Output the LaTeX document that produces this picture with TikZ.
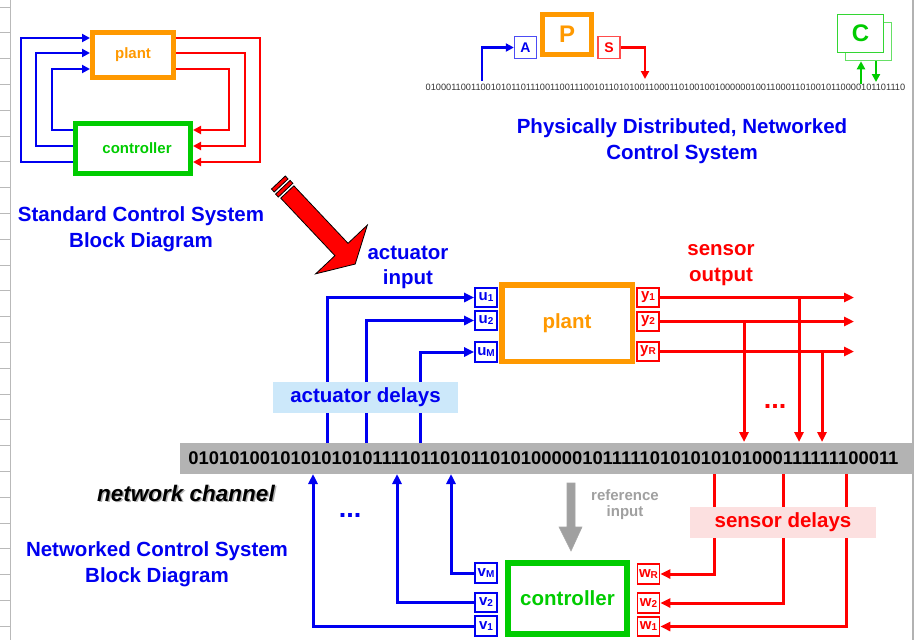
\documentclass[tikz,border=0pt]{standalone}
\usepackage{fontspec}
\setmainfont{Liberation Sans}
\usetikzlibrary{arrows.meta}

\definecolor{ncsblue}{RGB}{0,0,240}
\definecolor{ncsred}{RGB}{255,0,0}
\definecolor{ncsorange}{RGB}{255,153,0}
\definecolor{ncsgreen}{RGB}{0,204,0}
\definecolor{chgray}{RGB}{179,179,179}
\definecolor{actbg}{RGB}{204,232,250}
\definecolor{senbg}{RGB}{252,224,224}
\definecolor{refgray}{RGB}{160,160,160}

\newcommand\ncssub[2]{#1{\fontsize{10}{10}\selectfont\raisebox{-1pt}{#2}}}

\tikzset{
  ncsf/.style={font=\bfseries\fontsize{#1}{#1}\selectfont},
  twoline/.style 2 args={align=center, font=\bfseries\fontsize{#1}{#2}\selectfont},
  thickbox/.style={draw, line width=#1, inner sep=0pt, fill=white},
  port/.style={draw, line width=1.6pt, minimum width=22pt, minimum height=19.5pt,
    inner sep=0pt, fill=white, font=\bfseries\fontsize{15}{15}\selectfont},
  wire/.style={line width=3pt},
  thinwire/.style={line width=2.6pt},
  tip/.style={-{Triangle[length=10pt,width=9pt]}},
  smalltip/.style={-{Triangle[length=8pt,width=8pt]}},
  delaybox/.style={inner sep=0pt, minimum height=31pt, font=\bfseries\fontsize{20.5}{20.5}\selectfont},
}

\begin{document}
\begin{tikzpicture}[x=1pt,y=-1pt]
\useasboundingbox (0,0) rectangle (915,640);
\fill[white] (0,0) rectangle (915,640);

% sheet edges
\draw[gray!55, line width=0.8pt] (10,0) -- (10,640);
\foreach \k in {0,...,24} \draw[gray!55, line width=0.8pt] (0,7+25.8*\k) -- (10,7+25.8*\k);
\draw[gray!60, line width=1.5pt] (913,0) -- (913,640);

% ---------- standard control loop ----------
\node[thickbox=5pt, draw=ncsorange, minimum width=81pt, minimum height=45pt,
      text=ncsorange, ncsf=15] (sp) at (133,55) {plant};
\node[thickbox=5pt, draw=ncsgreen, minimum width=115pt, minimum height=50pt,
      text=ncsgreen, ncsf=15] (sc) at (133,148.5) {\hspace{8pt}controller};

\begin{scope}[thinwire, ncsblue, smalltip]
  \draw ([yshift=-13.5pt]sc.west) -| (21,38) -- ([yshift=17pt]sp.west);
  \draw ([yshift=2.5pt]sc.west) -| (36,53) -- ([yshift=2pt]sp.west);
  \draw ([yshift=18.5pt]sc.west) -| (52,69) -- ([yshift=-14pt]sp.west);
\end{scope}
\begin{scope}[thinwire, ncsred, smalltip]
  \draw ([yshift=17pt]sp.east) -| (260,162) -- ([yshift=-13.5pt]sc.east);
  \draw ([yshift=2pt]sp.east) -| (245,146) -- ([yshift=2.5pt]sc.east);
  \draw ([yshift=-14pt]sp.east) -| (229,130) -- ([yshift=18.5pt]sc.east);
\end{scope}

\node[twoline={20.5}{25.5}, text=ncsblue] (t1) at (141,229) {Standard Control System\\Block Diagram};

% ---------- physically distributed sketch ----------
\node[draw=ncsblue!70, line width=1.3pt, minimum width=22pt, minimum height=22pt,
      inner sep=0pt, text=ncsblue, ncsf=14] (nA) at (525.5,47.5) {A};
\node[thickbox=5pt, draw=ncsorange, minimum width=49pt, minimum height=40pt,
      text=ncsorange, ncsf=24] (nP) at (567,34.5) {P};
\node[draw=ncsred!70, line width=1.3pt, minimum width=22pt, minimum height=22pt,
      inner sep=0pt, text=ncsred, ncsf=14] (nS) at (609,47.5) {S};
\coordinate (tA) at (482,81);
\coordinate (tS) at (645,79);
\draw[thinwire, ncsblue, smalltip] (tA) |- (nA.west);
\draw[thinwire, ncsred, smalltip] (nS.east) -| (tS);
\node[font=\fontsize{9.2}{9.2}\selectfont, text=black!80, inner sep=0pt] (bits) at (665.5,87)
  {010001100110010101101110011001110010110101001100011010010010000001001100011010010110000101101110};
\node[draw=ncsgreen!60, line width=1.5pt, minimum width=46pt, minimum height=38pt, inner sep=0pt] (Cb) at (868.5,41.5) {};
\node[draw=ncsgreen!80, line width=1.5pt, minimum width=46pt, minimum height=38pt, inner sep=0pt,
      fill=white, text=ncsgreen, ncsf=24] (Cf) at (860.5,33.5) {C};
\coordinate (cu) at (861,84);
\coordinate (cd) at (876,82);
\draw[thinwire, ncsgreen, smalltip] (cu) -- (cu |- Cb.south);
\draw[thinwire, ncsgreen, smalltip] (cd |- Cb.south) -- (cd);

\node[twoline={20.5}{25.5}, text=ncsblue] (t2) at (682,141) {Physically Distributed, Networked\\Control System};

% ---------- big transition arrow ----------
\begin{scope}[shift={(287.3,192)}, rotate=-46.7]
  \filldraw[fill=ncsred, draw=black, line width=0.8pt]
    (0,-9) -- (79,-9) -- (79,-35.5) -- (99,0) -- (79,35.5) -- (79,9) -- (0,9) -- cycle;
  \filldraw[fill=ncsred, draw=black, line width=0.8pt] (-6.5,-10) rectangle (-2.5,10);
  \filldraw[fill=ncsred, draw=black, line width=0.8pt] (-13,-9.5) rectangle (-9,9.5);
\end{scope}

% ---------- network channel ----------
\node[fill=chgray, minimum width=733pt, minimum height=31pt, inner sep=0pt,
      font=\bfseries\fontsize{18.4}{18.4}\selectfont] (ch) at (546.5,458.5)
  {\hspace{-6pt}01010100101010101011110110101101010000010111110101010101000111111100011};

% ---------- networked plant ----------
\node[thickbox=5.5pt, draw=ncsorange, minimum width=130.5pt, minimum height=76.5pt,
      text=ncsorange, ncsf=20.5] (P) at (567,323) {plant};
\node[port, draw=ncsblue, text=ncsblue] (u1) at (486,297.5) {\ncssub{u}{1}};
\node[port, draw=ncsblue, text=ncsblue] (u2) at (486,320.5) {\ncssub{u}{2}};
\node[port, draw=ncsblue, text=ncsblue] (uM) at (486,352) {\ncssub{u}{M}};
\node[port, draw=ncsred, text=ncsred] (y1) at (648,297.5) {\ncssub{y}{1}};
\node[port, draw=ncsred, text=ncsred] (y2) at (648,321.5) {\ncssub{y}{2}};
\node[port, draw=ncsred, text=ncsred] (yR) at (648,351.5) {\ncssub{y}{R}};

\coordinate (a1) at (327,443);
\coordinate (a2) at (366,443);
\coordinate (a3) at (420,443);
\begin{scope}[wire, ncsblue, tip]
  \draw (a1) |- (u1.west);
  \draw (a2) |- (u2.west);
  \draw (a3) |- (uM.west);
\end{scope}

\coordinate (oend) at (854,0);
\coordinate (d1) at (744,442);
\coordinate (d2) at (799,442);
\coordinate (d3) at (822,442);
\begin{scope}[wire, ncsred, tip]
  \draw (y1.east) -- (y1.east -| oend);
  \draw (y2.east) -- (y2.east -| oend);
  \draw (yR.east) -- (yR.east -| oend);
  \draw (y2.east -| d1) -- (d1);
  \draw (y1.east -| d2) -- (d2);
  \draw (yR.east -| d3) -- (d3);
\end{scope}

\node[delaybox, fill=actbg, minimum width=185pt, text=ncsblue] (ad) at (365.5,397.5) {actuator delays};
\node[twoline={20.5}{25.5}, text=ncsblue] (ai) at (408,267.5) {actuator\\input};
\node[twoline={20.5}{25.5}, text=ncsred] (so) at (721,265) {sensor\\output};
\node[ncsf=27, text=ncsred] (rdots) at (775,406) {...};

% ---------- networked controller ----------
\node[thickbox=6pt, draw=ncsgreen, minimum width=119pt, minimum height=71pt,
      text=ncsgreen, ncsf=20.5] (C) at (567.5,598.5) {controller};
\node[port, draw=ncsblue, text=ncsblue] (vM) at (486,573) {\ncssub{v}{M}};
\node[port, draw=ncsblue, text=ncsblue] (v2) at (486,602.5) {\ncssub{v}{2}};
\node[port, draw=ncsblue, text=ncsblue] (v1) at (486,626) {\ncssub{v}{1}};
\node[port, draw=ncsred, text=ncsred] (wR) at (648.5,574) {\ncssub{w}{R}};
\node[port, draw=ncsred, text=ncsred] (w2) at (648.5,603) {\ncssub{w}{2}};
\node[port, draw=ncsred, text=ncsred] (w1) at (648.5,626.5) {\ncssub{w}{1}};

\coordinate (b1) at (313,474);
\coordinate (b2) at (397,474);
\coordinate (b3) at (451,474);
\begin{scope}[wire, ncsblue, tip]
  \draw (v1.west) -| (b1);
  \draw (v2.west) -| (b2);
  \draw (vM.west) -| (b3);
\end{scope}

\coordinate (r1) at (714,474);
\coordinate (r2) at (783,474);
\coordinate (r3) at (846,474);
\begin{scope}[wire, ncsred, tip]
  \draw (r1) |- (wR.east);
  \draw (r2) |- (w2.east);
  \draw (r3) |- (w1.east);
\end{scope}

\node[delaybox, fill=senbg, minimum width=186pt, text=ncsred] (sd) at (783,522.5) {sensor delays};
\node[ncsf=27, text=ncsblue] (bdots) at (350,515) {...};

% reference input arrow
\filldraw[fill=refgray, draw=gray!70, line width=0.6pt]
  (567,483) -- (575,483) -- (575,527) -- (582,527) -- (571,551) -- (559,527) -- (567,527) -- cycle;
\node[twoline={15}{16}, text=refgray] (ref) at (625,505) {reference\\input};

% channel caption with soft shadow
\node[text=gray!60, font=\bfseries\itshape\fontsize{22.5}{22.5}\selectfont] at (187.5,494.5) {network channel};
\node[text=black, font=\bfseries\itshape\fontsize{22.5}{22.5}\selectfont] (nc) at (186,493) {network channel};

\node[twoline={20.5}{25.5}, text=ncsblue] (t3) at (157,564) {Networked Control System\\Block Diagram};
\end{tikzpicture}
\end{document}
